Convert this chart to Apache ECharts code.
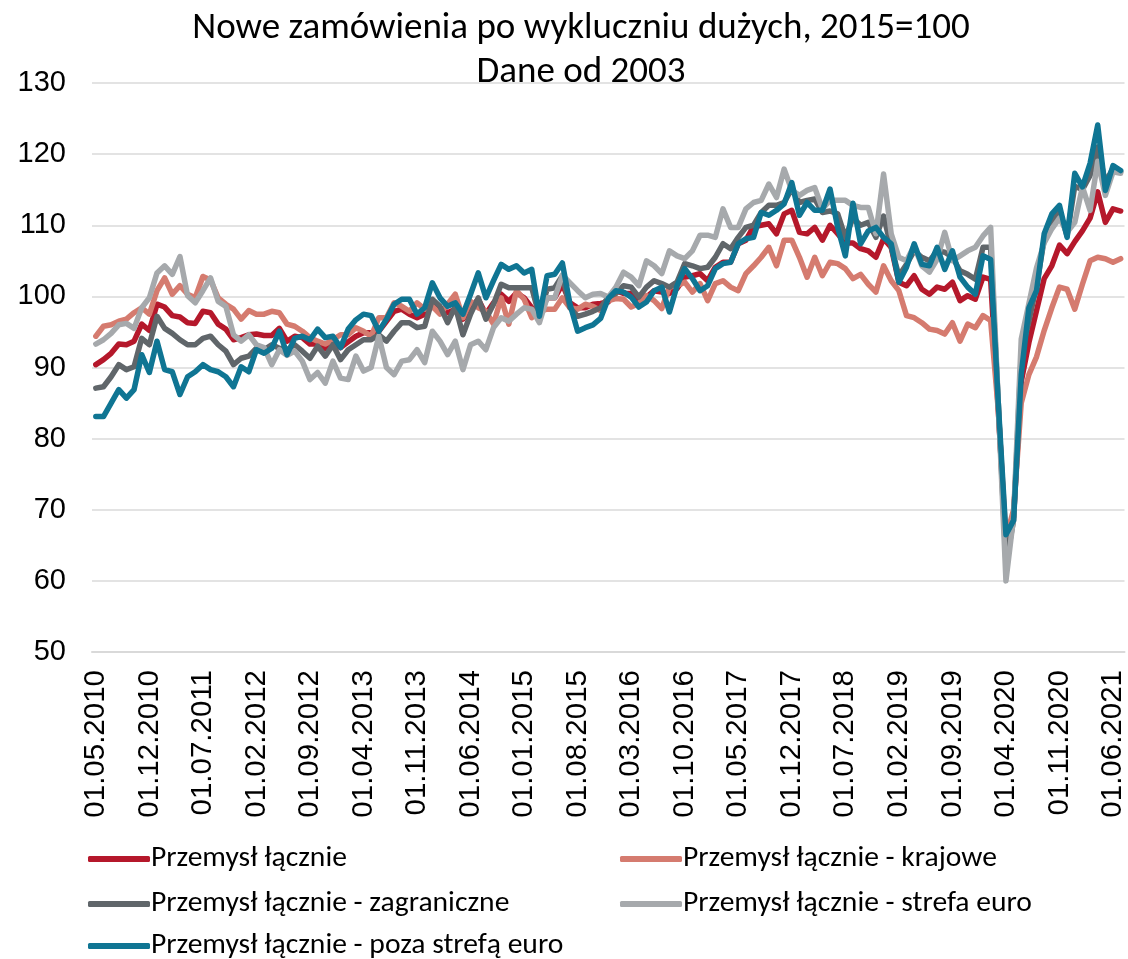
<!DOCTYPE html>
<html>
<head>
<meta charset="utf-8">
<script src="https://cdn.jsdelivr.net/npm/echarts@6/dist/echarts.min.js"></script>
<style>
html,body{margin:0;padding:0;background:#fff;}
#chart{width:1128px;height:959px;}
</style>
</head>
<body>
<div id="chart"></div>
<script>
// Months from 05.2010 to 07.2021 (labels like Excel: 01.MM.YYYY)
const startYear = 2010, startMonth = 5, nMonths = 135;
const categories = [];
for (let i = 0; i < nMonths; i++) {
  const m = (startMonth - 1 + i) % 12 + 1;
  const y = startYear + Math.floor((startMonth - 1 + i) / 12);
  categories.push('01.' + (m < 10 ? '0' + m : m) + '.' + y);
}

const seriesNames = [
  'Przemysł łącznie',
  'Przemysł łącznie - krajowe',
  'Przemysł łącznie - zagraniczne',
  'Przemysł łącznie - strefa euro',
  'Przemysł łącznie - poza strefą euro'
];

const total = [
  90.4, 91.1, 92.0, 93.3, 93.2, 93.7, 96.1, 95.2, 98.9, 98.5,
  97.3, 97.1, 96.3, 96.2, 97.9, 97.7, 96.1, 95.4, 93.9, 94.2,
  94.6, 94.7, 94.5, 94.5, 95.5, 93.7, 94.4, 94.2, 93.3, 93.3,
  92.7, 93.5, 92.8, 93.6, 94.4, 94.9, 94.9, 95.1, 96.5, 97.9,
  98.2, 97.5, 97.0, 97.5, 98.6, 98.4, 97.7, 98.2, 96.8, 98.4,
  99.6, 97.5, 99.1, 100.3, 99.3, 100.5, 99.8, 98.4, 97.2, 99.8,
  99.8, 101.7, 99.1, 98.4, 98.4, 98.9, 99.0, 99.2, 100.8, 100.4,
  100.4, 99.4, 99.9, 100.8, 100.6, 100.4, 101.1, 102.7, 102.9, 103.2,
  102.2, 104.1, 104.8, 104.8, 107.4, 107.9, 109.8, 110.0, 110.2, 108.8,
  111.6, 112.1, 109.0, 108.8, 109.7, 107.9, 110.0, 108.8, 107.5, 107.5,
  106.7, 106.4, 105.5, 108.1, 106.9, 102.0, 101.5, 102.9, 101.0, 100.3,
  101.3, 101.0, 102.0, 99.4, 100.1, 99.6, 102.7, 102.4, 84.0, 65.0,
  69.0, 88.0, 93.5, 98.0, 102.5, 104.3, 107.2, 106.0, 107.7, 109.2,
  111.0, 114.7, 110.4, 112.3, 112.0
];

const domestic = [
  94.4, 95.8, 96.0, 96.5, 96.8, 97.7, 98.4, 97.5, 100.8, 102.6,
  100.3, 101.5, 100.3, 99.8, 102.8, 102.3, 99.8, 98.9, 98.2, 96.8,
  98.0, 97.5, 97.5, 97.9, 97.7, 96.1, 95.8, 95.1, 94.2, 93.7,
  93.3, 93.9, 94.6, 94.6, 95.6, 95.1, 94.4, 97.0, 97.0, 99.1,
  98.6, 97.9, 99.1, 98.2, 98.6, 97.5, 98.9, 100.3, 97.0, 99.3,
  98.4, 97.9, 96.1, 99.8, 96.1, 100.8, 99.6, 97.0, 97.9, 98.2,
  98.2, 99.8, 98.4, 98.2, 98.9, 98.6, 98.0, 99.4, 99.7, 99.6,
  98.5, 99.0, 100.1, 99.4, 98.3, 101.3, 101.5, 102.0, 100.6, 101.8,
  99.4, 101.8, 102.2, 101.3, 100.8, 103.2, 104.3, 105.5, 106.9, 104.3,
  107.9, 107.9, 105.5, 102.7, 105.5, 102.9, 104.8, 104.6, 103.9, 102.5,
  103.1, 101.7, 100.6, 104.3, 102.2, 100.8, 97.3, 97.0, 96.3, 95.4,
  95.2, 94.7, 96.3, 93.7, 96.1, 95.6, 97.3, 96.6, 84.0, 66.0,
  70.0, 85.0, 89.0, 91.5, 95.2, 98.4, 101.3, 101.0, 98.2, 101.7,
  105.0, 105.5, 105.3, 104.8, 105.3
];

const foreign = [
  87.1, 87.3, 88.7, 90.4, 89.7, 90.1, 94.1, 93.2, 97.2, 95.5,
  94.8, 93.9, 93.2, 93.2, 94.1, 94.4, 93.2, 92.3, 90.4, 91.3,
  91.6, 92.7, 92.5, 93.2, 92.7, 92.5, 93.2, 92.3, 91.3, 93.0,
  91.6, 93.2, 91.1, 92.5, 93.2, 93.9, 93.9, 94.6, 93.7, 95.1,
  96.3, 96.3, 95.6, 95.8, 99.6, 98.6, 96.3, 98.6, 94.6, 97.5,
  99.8, 96.8, 98.9, 101.7, 101.2, 101.2, 101.2, 101.2, 97.2, 101.0,
  101.2, 102.9, 98.4, 97.2, 97.5, 97.9, 98.4, 99.9, 100.4, 101.5,
  101.3, 99.9, 101.3, 102.2, 101.8, 101.3, 102.0, 104.6, 104.3, 103.9,
  104.1, 105.5, 107.4, 106.7, 108.3, 109.7, 110.0, 111.8, 112.8, 112.8,
  113.2, 115.1, 113.2, 113.5, 113.7, 111.8, 112.0, 111.6, 108.3, 111.0,
  110.0, 110.4, 108.3, 111.3, 106.9, 102.9, 104.5, 106.4, 105.5, 105.0,
  106.4, 106.2, 105.5, 103.6, 103.1, 102.4, 106.9, 106.9, 85.0, 62.5,
  68.5, 92.0, 96.5, 101.5, 108.0, 110.5, 112.0, 108.5, 115.5, 115.0,
  117.0, 121.0, 116.0, 118.0, 117.5
];

const euroArea = [
  93.3, 93.9, 94.8, 96.0, 96.2, 95.5, 98.4, 99.8, 103.3, 104.3,
  103.1, 105.6, 100.1, 99.1, 100.8, 102.6, 99.3, 98.6, 94.6, 93.7,
  94.6, 93.2, 92.8, 90.4, 92.5, 91.7, 92.3, 90.9, 88.3, 89.3,
  87.8, 90.9, 88.5, 88.3, 91.6, 89.5, 90.0, 94.4, 90.0, 89.0,
  90.9, 91.1, 92.5, 90.7, 95.1, 93.7, 91.8, 93.7, 89.7, 93.2,
  93.7, 92.5, 95.6, 97.0, 96.5, 97.5, 98.4, 98.2, 96.3, 99.8,
  99.8, 103.0, 101.9, 100.8, 99.8, 100.3, 100.4, 99.9, 101.3, 103.4,
  102.7, 101.5, 105.0, 104.3, 103.2, 106.4, 105.7, 105.3, 106.4, 108.6,
  108.6, 108.3, 112.3, 109.7, 109.7, 112.3, 113.2, 113.5, 115.8, 113.9,
  117.9, 114.9, 114.2, 114.9, 115.3, 112.3, 113.5, 113.5, 113.5, 112.8,
  112.5, 112.5, 108.8, 117.2, 108.8, 105.5, 105.0, 107.1, 104.3, 103.4,
  105.2, 109.0, 105.0, 105.7, 106.4, 106.9, 108.5, 109.7, 85.0, 60.0,
  69.0, 94.0, 99.0, 104.0, 107.5, 109.5, 111.0, 109.0, 110.4, 115.4,
  112.1, 119.0, 114.2, 117.5, 117.3
];

const nonEuro = [
  83.1, 83.1, 85.0, 86.9, 85.7, 86.9, 91.8, 89.3, 93.7, 89.7,
  89.4, 86.2, 88.7, 89.4, 90.4, 89.7, 89.4, 88.7, 87.3, 90.1,
  89.4, 92.5, 92.0, 92.7, 95.1, 91.8, 94.1, 94.4, 93.9, 95.4,
  94.2, 94.4, 92.8, 95.4, 96.7, 97.5, 97.3, 95.1, 96.8, 98.9,
  99.6, 99.6, 97.5, 98.4, 101.9, 99.8, 98.6, 99.1, 97.5, 100.3,
  103.3, 99.8, 102.2, 104.5, 103.8, 104.3, 103.3, 103.8, 97.2, 102.9,
  103.1, 104.7, 98.9, 95.1, 95.6, 96.0, 96.9, 99.7, 100.8, 100.6,
  99.9, 98.5, 99.2, 100.8, 101.3, 97.8, 101.5, 103.9, 102.5, 100.8,
  101.5, 103.9, 104.6, 104.8, 107.4, 108.1, 108.3, 111.8, 111.4, 112.1,
  113.0, 116.0, 111.4, 113.2, 112.1, 112.1, 115.1, 109.7, 105.7, 113.1,
  107.4, 109.2, 109.7, 108.3, 107.4, 102.0, 104.1, 107.4, 104.5, 104.3,
  106.9, 103.8, 106.4, 102.7, 101.3, 100.3, 105.7, 105.2, 85.0, 66.5,
  68.5, 89.0, 98.4, 100.8, 108.8, 111.6, 112.8, 108.3, 117.3, 115.4,
  118.7, 124.1, 114.9, 118.4, 117.7
];

const colors = ['#b5182b', '#d57b6f', '#60666a', '#a6a9ac', '#0f7593'];
const seriesData = [total, domestic, foreign, euroArea, nonEuro];

const chart = echarts.init(document.getElementById('chart'), null, {renderer: 'canvas'});

const legendPos = [
  {left: 88, top: 844},
  {left: 620, top: 844},
  {left: 88, top: 889},
  {left: 620, top: 889},
  {left: 88, top: 931}
];
const legendFont = 'Carlito, Lato, sans-serif';

const option = {
  animation: false,
  backgroundColor: '#ffffff',
  color: colors,
  graphic: [
    {type: 'text', x: 581, y: 29, style: {text: 'Nowe zamówienia po wykluczniu dużych, 2015=100', font: '37px Carlito, Lato, sans-serif', fill: '#000', textAlign: 'center', textVerticalAlign: 'middle'}},
    {type: 'text', x: 581, y: 73, style: {text: 'Dane od 2003', font: '37px Carlito, Lato, sans-serif', fill: '#000', textAlign: 'center', textVerticalAlign: 'middle'}}
  ],
  legend: seriesNames.map((n, i) => ({
    data: [n],
    left: legendPos[i].left,
    top: legendPos[i].top,
    orient: 'horizontal',
    icon: 'roundRect',
    itemWidth: 62,
    itemHeight: 6,
    itemGap: 0,
    padding: 0,
    selectedMode: false,
    textStyle: {fontFamily: legendFont, fontSize: 29.6, color: '#000', padding: [0, 0, 0, -4]}
  })),
  grid: {left: 92, right: 0, top: 83, bottom: 307, containLabel: false},
  xAxis: {
    type: 'category',
    data: categories,
    boundaryGap: true,
    axisLine: {show: true, lineStyle: {color: '#d9d9d9', width: 2}},
    axisTick: {show: false},
    axisLabel: {
      interval: 6,
      rotate: 90,
      margin: 18,
      fontFamily: '"Liberation Sans", Arial, sans-serif',
      fontSize: 29.5,
      color: '#000'
    },
    splitLine: {show: false}
  },
  yAxis: {
    type: 'value',
    min: 50,
    max: 130,
    interval: 10,
    axisLine: {show: false},
    axisTick: {show: false},
    axisLabel: {
      margin: 26,
      fontFamily: '"Liberation Sans", Arial, sans-serif',
      fontSize: 29,
      color: '#000'
    },
    splitLine: {show: true, lineStyle: {color: '#e3e3e3', width: 2}}
  },
  series: seriesNames.map((n, i) => ({
    name: n,
    type: 'line',
    data: seriesData[i],
    showSymbol: false,
    symbol: 'none',
    smooth: false,
    lineStyle: {width: 5.5, color: colors[i], cap: 'round', join: 'round'},
    itemStyle: {color: colors[i]},
    z: 2 + i
  }))
};

chart.setOption(option);
</script>
</body>
</html>
